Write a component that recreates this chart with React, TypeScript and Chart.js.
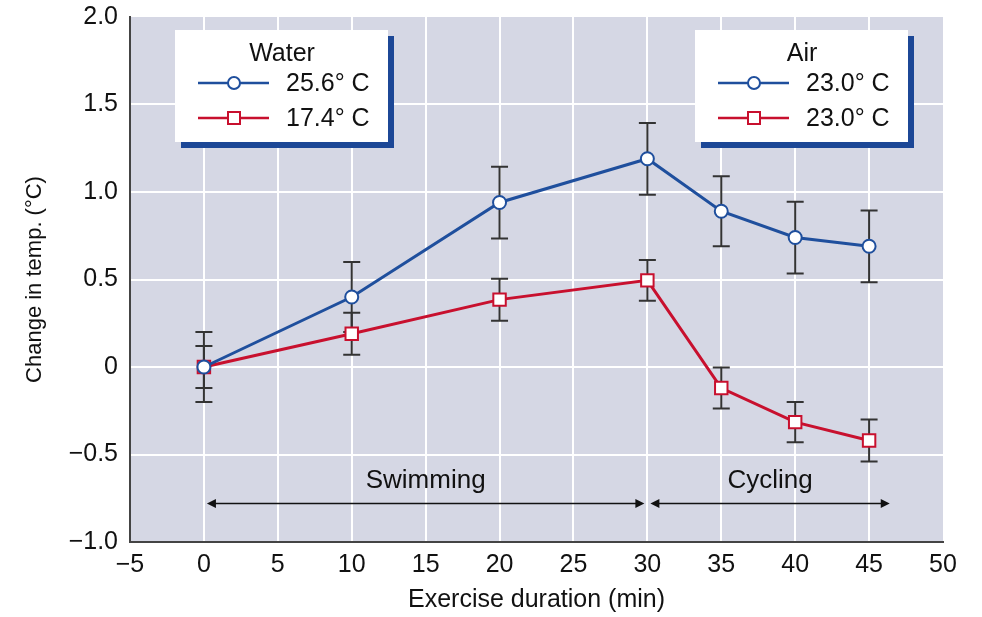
import React, { useEffect, useRef } from "react";
import { Chart, registerables } from "chart.js";

Chart.register(...registerables);

// ---- data ----
const durations = [0, 10, 20, 30, 35, 40, 45];
const warmValues = [0, 0.4, 0.94, 1.19, 0.89, 0.74, 0.69];
const warmErrors = [0.2, 0.2, 0.205, 0.205, 0.2, 0.205, 0.205];
const coldValues = [0, 0.19, 0.385, 0.495, -0.12, -0.315, -0.42];
const coldErrors = [0.12, 0.12, 0.12, 0.117, 0.117, 0.115, 0.12];

const xTickValues = [-5, 0, 5, 10, 15, 20, 25, 30, 35, 40, 45, 50];
const yTickValues = [-1, -0.5, 0, 0.5, 1, 1.5, 2];
const yTickLabels = ["\u22121.0", "\u22120.5", "0", "0.5", "1.0", "1.5", "2.0"];

const legendTitles = ["Water", "Air"];
const legendWarmLabels = ["25.6\u00b0 C", "23.0\u00b0 C"];
const legendColdLabels = ["17.4\u00b0 C", "23.0\u00b0 C"];

const phaseLabels = ["Swimming", "Cycling"];
const phaseStarts = [0, 30];
const phaseEnds = [30, 46.6];
const phaseArrowY = -0.78;
const phaseTextY = -0.65;

// ---- styles ----
const BLUE = "#1f4f9d";
const RED = "#c8102e";
const SHADOW = "#1c4796";
const PLOT_BG = "#d5d7e4";
const FONT = "'Liberation Sans', Arial, Helvetica, sans-serif";

const errorBarPlugin = {
  id: "errorBars",
  beforeDatasetsDraw(chart: any) {
    const ctx = chart.ctx;
    const y = chart.scales.y;
    const errs = [warmErrors, coldErrors];
    ctx.save();
    ctx.strokeStyle = "#333333";
    ctx.lineWidth = 2;
    chart.data.datasets.forEach((ds: any, i: number) => {
      const meta = chart.getDatasetMeta(i);
      meta.data.forEach((pt: any, j: number) => {
        const v = ds.data[j].y;
        const e = errs[i][j];
        const top = y.getPixelForValue(v + e);
        const bot = y.getPixelForValue(v - e);
        const x = pt.x;
        ctx.beginPath();
        ctx.moveTo(x, top);
        ctx.lineTo(x, bot);
        ctx.moveTo(x - 8.5, top);
        ctx.lineTo(x + 8.5, top);
        ctx.moveTo(x - 8.5, bot);
        ctx.lineTo(x + 8.5, bot);
        ctx.stroke();
      });
    });
    ctx.restore();
  },
};

const backgroundPlugin = {
  id: "plotBg",
  beforeDraw(chart: any) {
    const { ctx, chartArea } = chart;
    ctx.save();
    ctx.fillStyle = "#ffffff";
    ctx.fillRect(0, 0, chart.width, chart.height);
    ctx.fillStyle = PLOT_BG;
    ctx.fillRect(chartArea.left, chartArea.top, chartArea.right - chartArea.left, chartArea.bottom - chartArea.top);
    ctx.restore();
  },
};

function drawArrowHead(ctx: any, x: number, y: number, dir: number) {
  ctx.beginPath();
  ctx.moveTo(x, y);
  ctx.lineTo(x - dir * 9, y - 4.5);
  ctx.lineTo(x - dir * 9, y + 4.5);
  ctx.closePath();
  ctx.fill();
}

const annotationPlugin = {
  id: "phases",
  afterDatasetsDraw(chart: any) {
    const ctx = chart.ctx;
    const xs = chart.scales.x;
    const ys = chart.scales.y;
    ctx.save();
    ctx.strokeStyle = "#111";
    ctx.fillStyle = "#111";
    ctx.lineWidth = 1.6;
    const ay = ys.getPixelForValue(phaseArrowY);
    const ty = ys.getPixelForValue(phaseTextY);
    phaseLabels.forEach((label, i) => {
      const x1 = xs.getPixelForValue(phaseStarts[i]) + 3;
      const x2 = xs.getPixelForValue(phaseEnds[i]) - 3;
      ctx.beginPath();
      ctx.moveTo(x1 + 4, ay);
      ctx.lineTo(x2 - 4, ay);
      ctx.stroke();
      drawArrowHead(ctx, x1, ay, -1);
      drawArrowHead(ctx, x2, ay, 1);
      ctx.font = `26px ${FONT}`;
      ctx.textAlign = "center";
      ctx.textBaseline = "middle";
      ctx.fillStyle = "#111";
      ctx.fillText(label, (x1 + x2) / 2, ty);
    });
    ctx.restore();
  },
};

const legendBoxes = [
  { left: 175, top: 30, width: 213, height: 112 },
  { left: 695, top: 30, width: 213, height: 112 },
];

const legendPlugin = {
  id: "customLegend",
  afterDraw(chart: any) {
    const ctx = chart.ctx;
    ctx.save();
    legendTitles.forEach((title, i) => {
      const b = legendBoxes[i];
      ctx.fillStyle = SHADOW;
      ctx.fillRect(b.left + 6, b.top + 6, b.width, b.height);
      ctx.fillStyle = "#ffffff";
      ctx.fillRect(b.left, b.top, b.width, b.height);
      ctx.fillStyle = "#111";
      ctx.font = `25px ${FONT}`;
      ctx.textBaseline = "middle";
      ctx.textAlign = "center";
      ctx.fillText(title, b.left + 107, b.top + 24);
      const rows = [
        { label: legendWarmLabels[i], color: BLUE, shape: "circle", y: b.top + 53 },
        { label: legendColdLabels[i], color: RED, shape: "square", y: b.top + 88 },
      ];
      rows.forEach((r) => {
        const lx1 = b.left + 23;
        const lx2 = b.left + 94;
        const mx = b.left + 59;
        ctx.strokeStyle = r.color;
        ctx.lineWidth = 2.5;
        ctx.beginPath();
        ctx.moveTo(lx1, r.y);
        ctx.lineTo(lx2, r.y);
        ctx.stroke();
        ctx.fillStyle = "#fff";
        ctx.lineWidth = 2;
        ctx.beginPath();
        if (r.shape === "circle") {
          ctx.arc(mx, r.y, 6, 0, Math.PI * 2);
        } else {
          ctx.rect(mx - 6, r.y - 6, 12, 12);
        }
        ctx.fill();
        ctx.stroke();
        ctx.fillStyle = "#111";
        ctx.textAlign = "left";
        ctx.font = `25px ${FONT}`;
        ctx.fillText(r.label, b.left + 111, r.y + 1);
      });
    });
    ctx.restore();
  },
};

export default function App() {
  const canvasRef = useRef<HTMLCanvasElement | null>(null);

  useEffect(() => {
    const canvas = canvasRef.current;
    if (!canvas) return;
    const chart = new Chart(canvas, {
      type: "scatter",
      data: {
        datasets: [
          {
            label: "warm",
            data: durations.map((d, i) => ({ x: d, y: warmValues[i] })),
            showLine: true,
            borderColor: BLUE,
            borderWidth: 3,
            pointStyle: "circle",
            pointRadius: 6.5,
            pointBorderWidth: 2,
            pointBackgroundColor: "#ffffff",
            pointBorderColor: BLUE,
          },
          {
            label: "cold",
            data: durations.map((d, i) => ({ x: d, y: coldValues[i] })),
            showLine: true,
            borderColor: RED,
            borderWidth: 3,
            pointStyle: "rect",
            pointRadius: 8.8,
            pointBorderWidth: 2,
            pointBackgroundColor: "#ffffff",
            pointBorderColor: RED,
          },
        ],
      },
      options: {
        animation: false,
        responsive: false,
        maintainAspectRatio: false,
        layout: { padding: { left: 0, right: 39, top: 17, bottom: 0 } },
        plugins: {
          legend: { display: false },
          tooltip: { enabled: false },
        },
        scales: {
          x: {
            type: "linear",
            min: -5,
            max: 50,
            afterBuildTicks: (s: any) => {
              s.ticks = xTickValues.map((v) => ({ value: v }));
            },
            afterFit: (s: any) => {
              s.height = 75;
              s.paddingLeft = 0;
              s.paddingRight = 0;
            },
            grid: {
              color: (c: any) => (c.tick && (c.tick.value === 50 || c.tick.value === -5) ? "rgba(0,0,0,0)" : "#ffffff"),
              lineWidth: 2,
              drawTicks: false,
            },
            border: { display: true, color: "#444444", width: 2 },
            ticks: {
              padding: 8,
              color: "#111",
              font: { family: FONT, size: 25 },
              maxRotation: 0,
              autoSkip: false,
              callback: (v: any) => (v < 0 ? "\u2212" + Math.abs(v) : String(v)),
            },
            title: {
              display: true,
              text: "Exercise duration (min)",
              color: "#111",
              font: { family: FONT, size: 25 },
              padding: { top: 0, bottom: 2 },
            },
          },
          y: {
            type: "linear",
            min: -1,
            max: 2,
            afterBuildTicks: (s: any) => {
              s.ticks = yTickValues.map((v) => ({ value: v }));
            },
            afterFit: (s: any) => {
              s.width = 130;
              s.paddingTop = 0;
              s.paddingBottom = 0;
            },
            grid: {
              color: (c: any) => (c.tick && (c.tick.value === 2 || c.tick.value === -1) ? "rgba(0,0,0,0)" : "#ffffff"),
              lineWidth: 2,
              drawTicks: false,
            },
            border: { display: true, color: "#444444", width: 2 },
            ticks: {
              padding: 12,
              color: "#111",
              font: { family: FONT, size: 25 },
              autoSkip: false,
              callback: (v: any) => {
                const idx = yTickValues.indexOf(v);
                return idx >= 0 ? yTickLabels[idx] : "";
              },
            },
            title: {
              display: true,
              text: "Change in temp. (\u00b0C)",
              color: "#111",
              font: { family: FONT, size: 22 },
              padding: { top: 22, bottom: 0 },
            },
          },
        },
      },
      plugins: [backgroundPlugin, errorBarPlugin, annotationPlugin, legendPlugin],
    } as any);
    return () => chart.destroy();
  }, []);

  return (
    <div style={{ position: "fixed", left: 0, top: 0, width: 982, height: 617, background: "#fff" }}>
      <canvas ref={canvasRef} width={982} height={617} style={{ width: 982, height: 617, display: "block" }} />
    </div>
  );
}
